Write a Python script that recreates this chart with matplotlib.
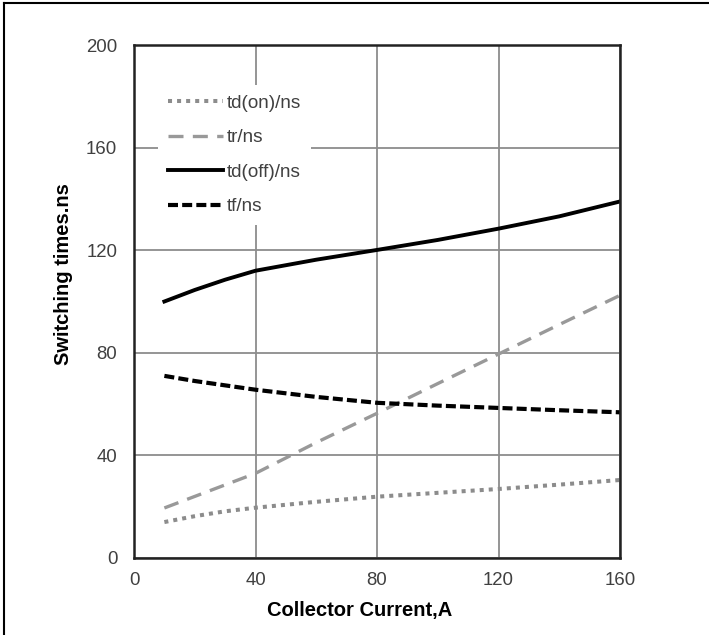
import matplotlib
matplotlib.use('Agg')
import matplotlib.pyplot as plt
from matplotlib.lines import Line2D

plt.rcParams.update({
    'font.family': ['Liberation Sans', 'DejaVu Sans'],
    'font.size': 13.4,
})

# data
current = [10, 20, 30, 40, 60, 80, 100, 120, 140, 160]
td_on = [14, 16.3, 18.2, 19.6, 21.9, 23.9, 25.4, 26.9, 28.6, 30.4]
t_r = [19.5, 24, 28.5, 33, 45, 56.4, 68, 79.5, 91, 102.4]
td_off = [100, 104.5, 108.5, 112, 116.3, 120.1, 124, 128.4, 133.2, 139]
t_f = [71, 69, 67.3, 65.6, 62.8, 60.5, 59.4, 58.5, 57.6, 56.8]
labels = ['td(on)/ns', 'tr/ns', 'td(off)/ns', 'tf/ns']
x_ticks = [0, 40, 80, 120, 160]
y_ticks = [0, 40, 80, 120, 160, 200]

fig = plt.figure(figsize=(7.09, 6.35), dpi=100)
ax = fig.add_axes([0.189, 0.1213, 0.6855, 0.8078])

ax.plot(current, td_on, color='#8c8c8c', lw=2.9, linestyle=(0, (1, 1.25)), label=labels[0])
ax.plot(current, t_r, color='#999999', lw=2.4, linestyle=(0, (4.5, 2.8)), label=labels[1])
ax.plot(current, td_off, color='black', lw=2.8, label=labels[2])
ax.plot(current, t_f, color='black', lw=3.0, linestyle=(0, (2.4, 1.0)), label=labels[3])

ax.set_xlim(0, 160)
ax.set_ylim(0, 200)
ax.set_xticks(x_ticks)
ax.set_yticks(y_ticks)
ax.tick_params(length=0, colors='#404040', labelsize=13.4)
ax.tick_params(axis='y', pad=12)
ax.tick_params(axis='x', pad=10)
ax.grid(True, color='#8c8c8c', lw=1.3)
ax.set_axisbelow(True)
for s in ax.spines.values():
    s.set_linewidth(1.8)
    s.set_color('#222222')

ax.set_xlabel('Collector Current,A', fontsize=14.5, fontweight='bold')
ax.set_ylabel('Switching times.ns', fontsize=14.5, fontweight='bold')
ax.xaxis.set_label_coords(0.465, -0.083)
ax.yaxis.set_label_coords(-0.125, 0.553)

leg = ax.legend(loc='upper left', bbox_to_anchor=(0.05, 0.922), borderaxespad=0,
                frameon=True, fancybox=False, framealpha=1, facecolor='white',
                edgecolor='none', fontsize=13.6, handlelength=2.9,
                handletextpad=0.25, labelspacing=0.92, borderpad=0.5)
for t in leg.get_texts():
    t.set_color('#404040')

# figure border (top and left edges visible in the reference)
fig.add_artist(Line2D([0.005, 1], [0.995, 0.995], transform=fig.transFigure, color='black', lw=1.5))
fig.add_artist(Line2D([0.005, 0.005], [0, 0.995], transform=fig.transFigure, color='black', lw=1.5))

fig.savefig('out.png', dpi=100)
